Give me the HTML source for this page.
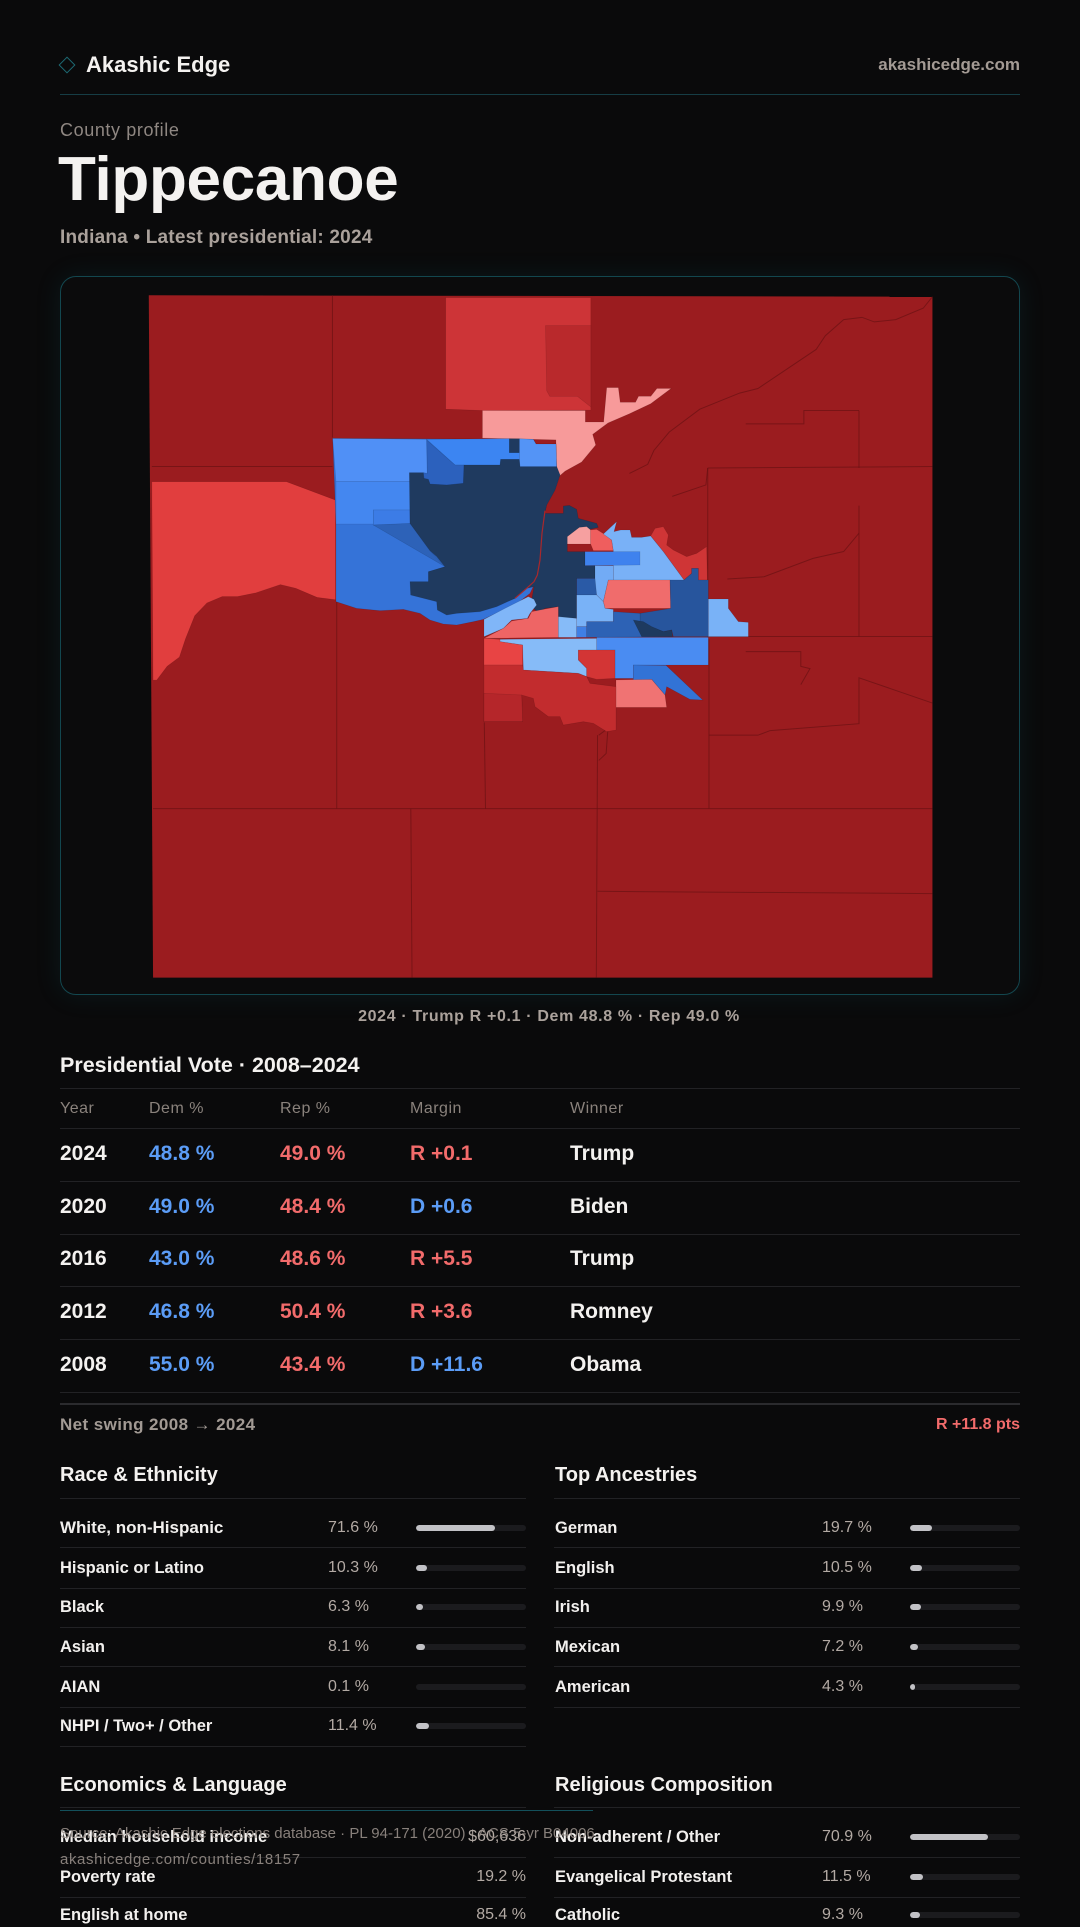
<!DOCTYPE html>
<html>
<head>
<meta charset="utf-8">
<style>
  html,body{margin:0;padding:0;}
  body{width:1080px;height:1920px;background:#0a0a0b;position:relative;overflow:hidden;font-family:"Liberation Sans",Arial,sans-serif;}
  .t{position:absolute;white-space:nowrap;line-height:24px;}
  .w{color:#f4f2f0;}
  .g{color:#a9a09a;}
  .b{color:#5b9cf6;}
  .r{color:#f26b6b;}
  .hl{position:absolute;height:1px;background:#222225;}
  .bar{position:absolute;height:6px;border-radius:3px;background:#1b1b1e;width:110px;overflow:hidden;}
  .bar i{display:block;height:6px;border-radius:3px;background:#c2c2c6;}
  .row{font-size:21px;font-weight:700;}
  .lab{font-size:16.5px;font-weight:700;color:#f2f0ee;}
  .val{font-size:16px;color:#b3aaa4;}
  .hd{font-size:20px;font-weight:700;color:#f4f2f0;}
  .th{font-size:16px;color:#8a827c;letter-spacing:0.5px;}
  .m polygon{vector-effect:non-scaling-stroke;stroke:rgba(0,0,0,0.14);stroke-width:0.6;}
  .ln polyline{vector-effect:non-scaling-stroke;fill:none;stroke:#6a1113;stroke-width:1;opacity:.7;}
</style>
</head>
<body>

<!-- header -->
<div style="position:absolute;left:61px;top:59px;width:10px;height:10px;border:1.5px solid #1d6a74;transform:rotate(45deg);"></div>
<div class="t w" style="left:86px;top:53px;font-size:22px;font-weight:700;">Akashic Edge</div>
<div class="t" style="right:60px;top:53px;font-size:17px;font-weight:700;color:#a39a94;">akashicedge.com</div>
<div style="position:absolute;left:60px;top:94px;width:960px;height:1px;background:#163d45;"></div>

<div class="t" style="left:60px;top:118px;font-size:18px;letter-spacing:0.6px;color:#8f8782;">County profile</div>
<div class="t w" style="left:58px;top:145px;font-size:62px;font-weight:700;line-height:70px;letter-spacing:-0.3px;">Tippecanoe</div>
<div class="t" style="left:60px;top:226px;font-size:19px;font-weight:700;letter-spacing:0.2px;color:#aaa19b;">Indiana • Latest presidential: 2024</div>

<!-- map box -->
<div style="position:absolute;left:60px;top:276px;width:958px;height:717px;border:1px solid #13474f;border-radius:16px;background:#0b0b0c;box-shadow:0 0 26px rgba(20,110,130,0.14);"></div>
<svg style="position:absolute;left:60px;top:276px;" width="960" height="720" viewBox="0 0 960 720">
  <g transform="scale(0.612245,0.459184)">
    <polygon fill="#9b1c1f" points="145,42 1425,45 1425,1528 152,1528"/>
  </g>
  <g class="m" transform="scale(0.612245,0.459184)">
    <polygon fill="#cd3437" points="630,47 867,47 867,292 690,293 630,290"/>
    <polygon fill="#b9292c" points="793,108 867,108 867,285 845,262 800,262 795,250"/>
    <polygon fill="#f79a9a" points="690,293 858,293 858,318 888,318 893,243 912,243 915,275 940,275 945,262 965,262 975,245 998,245 965,278 930,300 895,320 870,345 875,368 852,405 825,425 812,440 810,357 690,353"/>
    <polygon fill="#e13e3e" points="150,448 370,448 450,488 450,705 420,700 385,680 360,672 320,690 290,698 265,698 240,712 220,740 205,790 195,830 175,850 158,880 152,880"/>
  </g>
  <g class="ln" transform="scale(0.612245,0.459184)">
    <polyline points="445,42 445,352"/>
    <polyline points="150,415 445,415"/>
    <polyline points="452,705 452,1160"/>
    <polyline points="693,972 695,1160"/>
    <polyline points="152,1160 1425,1160"/>
    <polyline points="573,1160 575,1528"/>
    <polyline points="878,1000 876,1528"/>
    <polyline points="878,1340 1425,1345"/>
    <polyline points="1060,790 1060,1160"/>
    <polyline points="1060,1000 1140,1000 1160,990 1305,975 1305,875 1425,930"/>
    <polyline points="1058,418 1058,790"/>
    <polyline points="1058,418 1425,415"/>
    <polyline points="1305,293 1305,418"/>
    <polyline points="1120,322 1215,322 1215,293 1305,293"/>
    <polyline points="1060,785 1425,785"/>
    <polyline points="1305,500 1305,785"/>
    <polyline points="1425,45 1410,70 1365,95 1330,100 1310,90 1280,95 1250,130 1235,160 1140,245 1110,255 1045,290 995,340 970,380 960,410 930,430"/>
    <polyline points="1120,818 1210,818 1210,850 1225,855 1210,890"/>
    <polyline points="880,1000 895,985 892,1040 880,1055"/>
    <polyline points="1000,480 1055,455 1058,418"/>
    <polyline points="1090,660 1150,655 1230,615 1280,600 1305,560"/>
  </g>
  <g class="m" transform="translate(270,144) scale(0.333333)">
    <polygon fill="#cf3536" points="962,348 975,325 1000,320 1015,345 1010,375 1030,390 1070,410 1100,400 1130,380 1132,480 1105,480 1105,445 1085,445 1085,460 1062,480 1000,395"/>
    <polygon fill="#3573d8" points="8,55 610,58 618,72 678,72 680,140 690,165 675,210 650,255 640,290 630,420 620,478 600,520 555,555 520,570 460,598 430,605 380,615 340,612 300,600 270,580 220,568 150,572 80,565 18,545 18,312"/>
    <polygon fill="#5090f6" points="8,55 290,58 292,185 18,185"/>
    <polygon fill="#4487f0" points="18,185 240,185 240,270 130,270 130,312 18,312"/>
    <polygon fill="#3c7ce6" points="130,270 240,270 240,312 130,315"/>
    <polygon fill="#3c85f2" points="290,58 538,56 538,98 568,98 568,118 512,118 510,135 375,135"/>
    <polygon fill="#5494f6" points="568,56 610,58 618,72 678,72 680,140 570,140 568,118"/>
    <polygon fill="#2c61bd" points="290,60 375,135 402,135 400,190 350,195 300,192 295,178 282,175 280,158 292,160"/>
    <polygon fill="#2d62b8" points="130,315 240,310 300,392 345,440"/>
    <polygon fill="#1f3a5f" points="238,158 280,158 282,175 295,178 300,192 350,195 400,190 402,135 510,135 512,118 568,118 570,140 680,140 690,165 675,210 650,255 645,280 700,280 700,258 718,256 740,268 745,295 800,310 805,322 770,330 730,345 712,370 712,395 765,395 765,437 795,437 795,475 740,475 740,595 685,592 685,560 645,565 625,578 610,565 605,540 612,500 590,505 555,535 500,560 450,575 380,580 350,585 322,570 320,545 242,525 240,485 295,485 295,455 345,440 320,410 300,392 240,310"/>
    <polygon fill="#1f3a5f" points="538,56 568,56 568,98 538,98"/>
    <polygon fill="#2a5aa6" points="740,475 800,475 800,525 740,525"/>
    <polygon fill="#f6a0a0" points="712,350 748,322 770,320 782,330 782,372 712,372"/>
    <polygon fill="#ef5e5e" points="782,330 800,328 822,342 845,360 850,392 790,392 782,372"/>
    <polygon fill="#79b1f7" points="820,342 860,305 852,335 872,330 900,330 905,352 935,352 962,348 1000,395 1062,480 850,480 850,392 845,360"/>
    <polygon fill="#72abf5" points="795,437 850,437 850,480 835,480 820,545 800,525 795,475"/>
    <polygon fill="#3f82ee" points="765,395 930,395 930,435 765,437"/>
    <polygon fill="#f06c6c" points="835,480 1020,480 1022,565 825,565 820,545"/>
    <polygon fill="#27559d" points="1020,480 1062,480 1085,460 1085,445 1105,445 1105,480 1135,480 1135,650 1030,650 1025,630 1000,635 960,620 930,620 930,580 1022,565"/>
    <polygon fill="#79b2f7" points="740,525 800,525 820,545 825,565 850,568 850,605 770,605 770,620 740,620 740,595"/>
    <polygon fill="#2d62b5" points="770,605 850,605 850,575 930,580 930,620 960,620 1000,635 1030,650 770,652"/>
    <polygon fill="#1e3a5f" points="910,600 940,605 965,620 1000,635 1025,630 1028,650 935,650"/>
    <polygon fill="#79b2f7" points="1135,537 1195,537 1195,565 1225,605 1255,607 1255,650 1135,650"/>
    <polygon fill="#4a8cf2" points="800,652 1135,652 1135,735 1010,735 910,735 910,775 855,775 855,690 800,690"/>
    <polygon fill="#3273d6" points="910,735 1008,736 1118,840 1080,838 1010,800 1005,825 975,790 965,778 910,780"/>
    <polygon fill="#f07373" points="858,780 965,778 975,790 1005,825 1010,862 858,862"/>
    <polygon fill="#80b6f8" points="462,598 525,565 595,530 612,538 620,555 600,580 592,595 545,600 520,625 462,650"/>
    <polygon fill="#ee6565" points="462,655 520,625 545,603 595,595 605,575 640,568 685,560 685,652"/>
    <polygon fill="#86bbf8" points="685,590 740,595 740,652 685,652"/>
    <polygon fill="#3f7fe4" points="740,620 770,620 770,652 740,652"/>
    <polygon fill="#86bbf8" points="510,658 800,655 800,690 745,690 745,720 770,745 770,770 745,760 580,750 578,675 510,665"/>
    <polygon fill="#e84444" points="462,655 510,658 510,665 578,675 578,735 462,735"/>
    <polygon fill="#d33535" points="745,690 855,690 855,775 800,778 770,770 770,745 745,720"/>
    <polygon fill="#c22c2e" points="462,735 578,735 580,750 745,760 770,770 780,790 858,800 858,930 830,935 790,910 760,905 700,915 690,890 655,890 615,860 610,835 575,825 578,905 462,905"/>
    <polygon fill="#b5262a" points="462,820 575,825 578,905 462,905"/>
    <polyline points="645,272 636,340 630,420 622,465 612,485 590,505 555,535" style="fill:none;stroke:#a8282c;stroke-width:1.2;vector-effect:non-scaling-stroke;"/>
  </g>
</svg>

<div class="t g" style="left:9px;width:1080px;text-align:center;top:1005px;font-size:16px;font-weight:700;letter-spacing:0.65px;color:#aba29c;">2024 · Trump R +0.1 · Dem 48.8 % · Rep 49.0 %</div>

<!-- presidential table -->
<div class="t hd" style="left:60px;top:1053px;font-size:21.5px;">Presidential Vote · 2008–2024</div>
<div class="hl" style="left:60px;top:1088px;width:960px;"></div>
<div class="t th" style="left:60px;top:1097px;">Year</div>
<div class="t th" style="left:149px;top:1097px;">Dem %</div>
<div class="t th" style="left:280px;top:1097px;">Rep %</div>
<div class="t th" style="left:410px;top:1097px;">Margin</div>
<div class="t th" style="left:570px;top:1097px;">Winner</div>
<div class="hl" style="left:60px;top:1128px;width:960px;"></div>

<div class="t row w" style="left:60px;top:1142px;">2024</div>
<div class="t row b" style="left:149px;top:1142px;">48.8 %</div>
<div class="t row r" style="left:280px;top:1142px;">49.0 %</div>
<div class="t row r" style="left:410px;top:1142px;">R +0.1</div>
<div class="t row w" style="left:570px;top:1142px;">Trump</div>
<div class="hl" style="left:60px;top:1181px;width:960px;"></div>

<div class="t row w" style="left:60px;top:1195px;">2020</div>
<div class="t row b" style="left:149px;top:1195px;">49.0 %</div>
<div class="t row r" style="left:280px;top:1195px;">48.4 %</div>
<div class="t row b" style="left:410px;top:1195px;">D +0.6</div>
<div class="t row w" style="left:570px;top:1195px;">Biden</div>
<div class="hl" style="left:60px;top:1234px;width:960px;"></div>

<div class="t row w" style="left:60px;top:1247px;">2016</div>
<div class="t row b" style="left:149px;top:1247px;">43.0 %</div>
<div class="t row r" style="left:280px;top:1247px;">48.6 %</div>
<div class="t row r" style="left:410px;top:1247px;">R +5.5</div>
<div class="t row w" style="left:570px;top:1247px;">Trump</div>
<div class="hl" style="left:60px;top:1286px;width:960px;"></div>

<div class="t row w" style="left:60px;top:1300px;">2012</div>
<div class="t row b" style="left:149px;top:1300px;">46.8 %</div>
<div class="t row r" style="left:280px;top:1300px;">50.4 %</div>
<div class="t row r" style="left:410px;top:1300px;">R +3.6</div>
<div class="t row w" style="left:570px;top:1300px;">Romney</div>
<div class="hl" style="left:60px;top:1339px;width:960px;"></div>

<div class="t row w" style="left:60px;top:1353px;">2008</div>
<div class="t row b" style="left:149px;top:1353px;">55.0 %</div>
<div class="t row r" style="left:280px;top:1353px;">43.4 %</div>
<div class="t row b" style="left:410px;top:1353px;">D +11.6</div>
<div class="t row w" style="left:570px;top:1353px;">Obama</div>
<div class="hl" style="left:60px;top:1392px;width:960px;"></div>

<div class="hl" style="left:60px;top:1403px;width:960px;height:2px;background:#2b2b2e;"></div>
<div class="t" style="left:60px;top:1413px;font-size:17px;font-weight:700;letter-spacing:0.4px;color:#a29a94;">Net swing 2008 → 2024</div>
<div class="t r" style="right:60px;top:1413px;font-size:16px;font-weight:700;">R +11.8 pts</div>

<!-- Race & Ethnicity -->
<div class="t hd" style="left:60px;top:1463px;">Race &amp; Ethnicity</div>
<div class="hl" style="left:60px;top:1498px;width:466px;"></div>

<div class="t lab" style="left:60px;top:1516px;font-size:17px;">White, non-Hispanic</div>
<div class="t val" style="left:328px;top:1516px;">71.6 %</div>
<div class="bar" style="left:416px;top:1525px;"><i style="width:79px"></i></div>
<div class="hl" style="left:60px;top:1547px;width:466px;"></div>

<div class="t lab" style="left:60px;top:1556px;">Hispanic or Latino</div>
<div class="t val" style="left:328px;top:1556px;">10.3 %</div>
<div class="bar" style="left:416px;top:1565px;"><i style="width:11px"></i></div>
<div class="hl" style="left:60px;top:1588px;width:466px;"></div>

<div class="t lab" style="left:60px;top:1595px;">Black</div>
<div class="t val" style="left:328px;top:1595px;">6.3 %</div>
<div class="bar" style="left:416px;top:1604px;"><i style="width:7px"></i></div>
<div class="hl" style="left:60px;top:1627px;width:466px;"></div>

<div class="t lab" style="left:60px;top:1635px;">Asian</div>
<div class="t val" style="left:328px;top:1635px;">8.1 %</div>
<div class="bar" style="left:416px;top:1644px;"><i style="width:9px"></i></div>
<div class="hl" style="left:60px;top:1666px;width:466px;"></div>

<div class="t lab" style="left:60px;top:1675px;">AIAN</div>
<div class="t val" style="left:328px;top:1675px;">0.1 %</div>
<div class="bar" style="left:416px;top:1684px;"><i style="width:0px"></i></div>
<div class="hl" style="left:60px;top:1707px;width:466px;"></div>

<div class="t lab" style="left:60px;top:1714px;">NHPI / Two+ / Other</div>
<div class="t val" style="left:328px;top:1714px;">11.4 %</div>
<div class="bar" style="left:416px;top:1723px;"><i style="width:13px"></i></div>
<div class="hl" style="left:60px;top:1746px;width:466px;"></div>

<!-- Top Ancestries -->
<div class="t hd" style="left:555px;top:1463px;">Top Ancestries</div>
<div class="hl" style="left:554px;top:1498px;width:466px;"></div>

<div class="t lab" style="left:555px;top:1516px;">German</div>
<div class="t val" style="left:822px;top:1516px;">19.7 %</div>
<div class="bar" style="left:910px;top:1525px;"><i style="width:22px"></i></div>
<div class="hl" style="left:554px;top:1547px;width:466px;"></div>

<div class="t lab" style="left:555px;top:1556px;">English</div>
<div class="t val" style="left:822px;top:1556px;">10.5 %</div>
<div class="bar" style="left:910px;top:1565px;"><i style="width:12px"></i></div>
<div class="hl" style="left:554px;top:1588px;width:466px;"></div>

<div class="t lab" style="left:555px;top:1595px;">Irish</div>
<div class="t val" style="left:822px;top:1595px;">9.9 %</div>
<div class="bar" style="left:910px;top:1604px;"><i style="width:11px"></i></div>
<div class="hl" style="left:554px;top:1627px;width:466px;"></div>

<div class="t lab" style="left:555px;top:1635px;">Mexican</div>
<div class="t val" style="left:822px;top:1635px;">7.2 %</div>
<div class="bar" style="left:910px;top:1644px;"><i style="width:8px"></i></div>
<div class="hl" style="left:554px;top:1666px;width:466px;"></div>

<div class="t lab" style="left:555px;top:1675px;">American</div>
<div class="t val" style="left:822px;top:1675px;">4.3 %</div>
<div class="bar" style="left:910px;top:1684px;"><i style="width:5px"></i></div>
<div class="hl" style="left:554px;top:1707px;width:466px;"></div>

<!-- Economics & Language -->
<div class="t hd" style="left:60px;top:1773px;">Economics &amp; Language</div>
<div class="hl" style="left:60px;top:1807px;width:466px;"></div>

<div class="t lab" style="left:60px;top:1825px;">Median household income</div>
<div class="t val" style="right:554px;top:1825px;">$60,636</div>
<div class="hl" style="left:60px;top:1857px;width:466px;"></div>

<div class="t lab" style="left:60px;top:1865px;">Poverty rate</div>
<div class="t val" style="right:554px;top:1865px;">19.2 %</div>
<div class="hl" style="left:60px;top:1897px;width:466px;"></div>

<div class="t lab" style="left:60px;top:1903px;">English at home</div>
<div class="t val" style="right:554px;top:1903px;">85.4 %</div>

<!-- Religious Composition -->
<div class="t hd" style="left:555px;top:1773px;">Religious Composition</div>
<div class="hl" style="left:554px;top:1807px;width:466px;"></div>

<div class="t lab" style="left:555px;top:1825px;">Non-adherent / Other</div>
<div class="t val" style="left:822px;top:1825px;">70.9 %</div>
<div class="bar" style="left:910px;top:1834px;"><i style="width:78px"></i></div>
<div class="hl" style="left:554px;top:1857px;width:466px;"></div>

<div class="t lab" style="left:555px;top:1865px;">Evangelical Protestant</div>
<div class="t val" style="left:822px;top:1865px;">11.5 %</div>
<div class="bar" style="left:910px;top:1874px;"><i style="width:13px"></i></div>
<div class="hl" style="left:554px;top:1897px;width:466px;"></div>

<div class="t lab" style="left:555px;top:1903px;">Catholic</div>
<div class="t val" style="left:822px;top:1903px;">9.3 %</div>
<div class="bar" style="left:910px;top:1912px;"><i style="width:10px"></i></div>

<!-- footer overlay -->
<div style="position:absolute;left:60px;top:1810px;width:533px;height:1px;background:#13505b;"></div>
<div class="t" style="left:60px;top:1822px;font-size:15px;color:rgba(150,141,135,0.9);">Source: Akashic Edge elections database · PL 94-171 (2020) · ACS 5-yr B04006</div>
<div class="t" style="left:60px;top:1848px;font-size:15px;letter-spacing:0.6px;color:rgba(150,141,135,0.9);">akashicedge.com/counties/18157</div>

</body>
</html>
